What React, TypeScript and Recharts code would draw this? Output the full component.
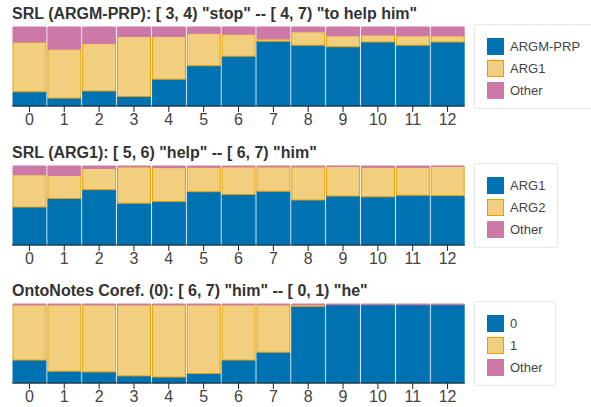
import { BarChart, Bar, XAxis, YAxis } from "recharts";

const LAYERS = ["0", "1", "2", "3", "4", "5", "6", "7", "8", "9", "10", "11", "12"];

// SRL (ARGM-PRP)
const PRP_TITLE = 'SRL (ARGM-PRP): [ 3, 4) "stop" -- [ 4, 7) "to help him"';
const PRP_NAMES = ["ARGM-PRP", "ARG1", "Other"];
const PRP_A = [0.18, 0.10, 0.19, 0.12, 0.34, 0.51, 0.63, 0.82, 0.77, 0.75, 0.81, 0.77, 0.81];
const PRP_B = [0.63, 0.62, 0.60, 0.76, 0.54, 0.41, 0.28, 0.03, 0.17, 0.14, 0.09, 0.12, 0.08];
const PRP_O = [0.19, 0.28, 0.21, 0.12, 0.12, 0.08, 0.09, 0.15, 0.06, 0.11, 0.10, 0.11, 0.11];

// SRL (ARG1)
const ARG1_TITLE = 'SRL (ARG1): [ 5, 6) "help" -- [ 6, 7) "him"';
const ARG1_NAMES = ["ARG1", "ARG2", "Other"];
const ARG1_A = [0.48, 0.59, 0.70, 0.53, 0.55, 0.675, 0.64, 0.68, 0.57, 0.62, 0.61, 0.63, 0.625];
const ARG1_B = [0.41, 0.29, 0.27, 0.46, 0.43, 0.31, 0.35, 0.31, 0.42, 0.375, 0.375, 0.355, 0.37];
const ARG1_O = [0.11, 0.12, 0.03, 0.01, 0.02, 0.015, 0.01, 0.01, 0.01, 0.005, 0.015, 0.015, 0.005];

// OntoNotes coref
const COREF_TITLE = 'OntoNotes Coref. (0): [ 6, 7) "him" -- [ 0, 1) "he"';
const COREF_NAMES = ["0", "1", "Other"];
const COREF_A = [0.29, 0.15, 0.14, 0.09, 0.075, 0.12, 0.29, 0.39, 0.97, 0.99, 0.99, 0.99, 0.99];
const COREF_B = [0.70, 0.84, 0.85, 0.90, 0.915, 0.87, 0.70, 0.60, 0.02, 0.0, 0.0, 0.0, 0.0];
const COREF_O = [0.01, 0.01, 0.01, 0.01, 0.01, 0.01, 0.01, 0.01, 0.01, 0.01, 0.01, 0.01, 0.01];

const FILLS = ["#0072B2", "#F2CF7F", "#CC79A7"];
const STROKES = ["#0072B2", "#E69F00", "#CC79A7"];
const FONT = '"Liberation Sans", Arial, Helvetica, sans-serif';

function Panel({
  top,
  title,
  names,
  a,
  b,
  o,
}: {
  top: number;
  title: string;
  names: string[];
  a: number[];
  b: number[];
  o: number[];
}) {
  const data = LAYERS.map((layer, i) => ({ layer, a: a[i], b: b[i], o: o[i] }));
  const keys = ["a", "b", "o"];
  return (
    <div style={{ position: "absolute", left: 0, top, width: 591, height: 135 }}>
      <div
        style={{
          position: "absolute",
          left: 12,
          top: 5,
          fontFamily: FONT,
          fontWeight: "bold",
          fontSize: 16,
          lineHeight: "18px",
          color: "#333",
          whiteSpace: "nowrap",
        }}
      >
        {title}
      </div>
      <BarChart
        width={591}
        height={135}
        data={data}
        margin={{ top: 27, right: 126, left: 12, bottom: 0 }}
        barCategoryGap={1}
      >
        <XAxis
          dataKey="layer"
          height={29}
          interval={0}
          tickSize={6}
          axisLine={{ stroke: "#222" }}
          tickLine={{ stroke: "#222" }}
          tick={{ fill: "#444", fontSize: 16, fontFamily: FONT }}
        />
        <YAxis
          width={0}
          domain={[0, 1]}
          tick={false}
          tickLine={false}
          axisLine={{ stroke: "#222" }}
        />
        {keys.map((k, i) => (
          <Bar
            key={k}
            dataKey={k}
            stackId="s"
            fill={FILLS[i]}
            stroke={STROKES[i]}
            strokeWidth={1}
            isAnimationActive={false}
          />
        ))}
      </BarChart>
      <div
        style={{
          position: "absolute",
          left: 474,
          top: 24,
          height: 85,
          boxSizing: "border-box",
          padding: "10px 12px 0 12px",
          border: "1px solid #e8e8e8",
          borderRadius: 2,
          background: "#fff",
          fontFamily: FONT,
          fontSize: 13,
          color: "#444",
          whiteSpace: "nowrap",
        }}
      >
        {names.map((n, i) => (
          <div key={n} style={{ display: "flex", alignItems: "center", height: 22 }}>
            <span
              style={{
                display: "inline-block",
                width: 15,
                height: 15,
                background: FILLS[i],
                border: `1px solid ${STROKES[i]}`,
                marginRight: 6,
              }}
            />
            <span>{n}</span>
          </div>
        ))}
      </div>
    </div>
  );
}

export default function App() {
  return (
    <div style={{ position: "absolute", left: 0, top: 0, width: 591, height: 407, background: "#fff", overflow: "hidden" }}>
      <Panel top={0} title={PRP_TITLE} names={PRP_NAMES} a={PRP_A} b={PRP_B} o={PRP_O} />
      <Panel top={139} title={ARG1_TITLE} names={ARG1_NAMES} a={ARG1_A} b={ARG1_B} o={ARG1_O} />
      <Panel top={277} title={COREF_TITLE} names={COREF_NAMES} a={COREF_A} b={COREF_B} o={COREF_O} />
    </div>
  );
}
